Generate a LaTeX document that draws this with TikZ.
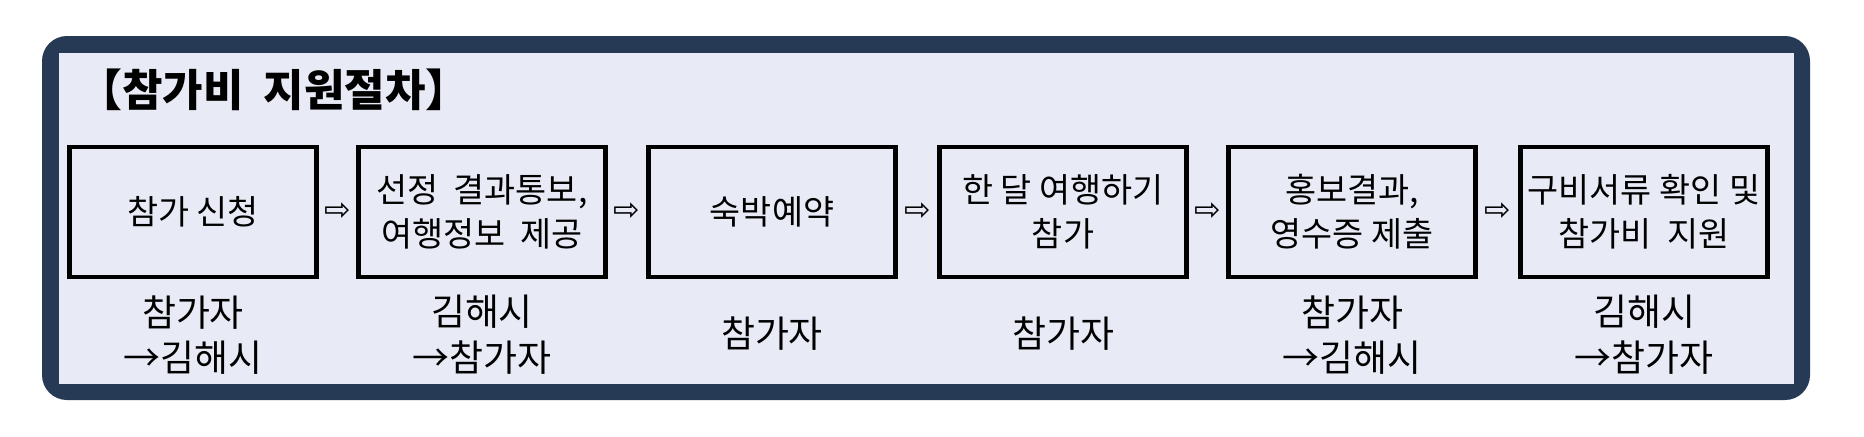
\documentclass[tikz,border=0pt]{standalone}
\usepackage{fontspec}
\usetikzlibrary{calc}
\setmainfont{Noto Sans CJK KR}
\newfontfamily\symf{DejaVu Sans}
\definecolor{frame}{HTML}{263A56}
\definecolor{bg}{HTML}{E8EAF6}
\begin{document}
\begin{tikzpicture}[x=0.01cm,y=-0.01cm,
  stepbox/.style={draw=black,line width=1.3pt,fill=bg,minimum width=2.47cm,minimum height=1.3cm,align=center,font=\fontsize{9.6}{12.5}\selectfont,inner sep=0pt},
  lab/.style={align=center,font=\fontsize{10.5}{13}\selectfont,anchor=north},
  arr/.style={font=\symf\fontsize{9}{10}\selectfont}]
\useasboundingbox (0,0) rectangle (1864,436);
\fill[white] (0,0) rectangle (1864,436);
\fill[frame,rounded corners=0.25cm] (42,36) rectangle (1810,400);
\fill[bg] (59,53) rectangle (1794,384);
\node[anchor=west,font=\bfseries\fontsize{12.5}{14}\selectfont] (title) at (66,90) {【참가비 \ 지원절차】};
\node[stepbox] (b1) at (193,212) {참가 신청};
\node[stepbox] (b2) at (482,212) {선정 \ 결과통보,\\여행정보 \ 제공};
\node[stepbox] (b3) at (772,212) {숙박예약};
\node[stepbox] (b4) at (1063,212) {한 달 여행하기\\참가};
\node[stepbox] (b5) at (1352,212) {홍보결과,\\영수증 제출};
\node[stepbox] (b6) at (1644,212) {구비서류 확인 및\\참가비 \ 지원};
\foreach \i/\j in {1/2,2/3,3/4,4/5,5/6}{
  \node[arr] (a\i) at ($(b\i.east)!0.5!(b\j.west)$) {⇨};
}
\node[lab] (l1) at (193,283) {참가자\\→김해시};
\node[lab] (l2) at (482,283) {김해시\\→참가자};
\node[lab] (l3) at (772,304) {참가자};
\node[lab] (l4) at (1063,304) {참가자};
\node[lab] (l5) at (1352,283) {참가자\\→김해시};
\node[lab] (l6) at (1644,283) {김해시\\→참가자};
\end{tikzpicture}
\end{document}
